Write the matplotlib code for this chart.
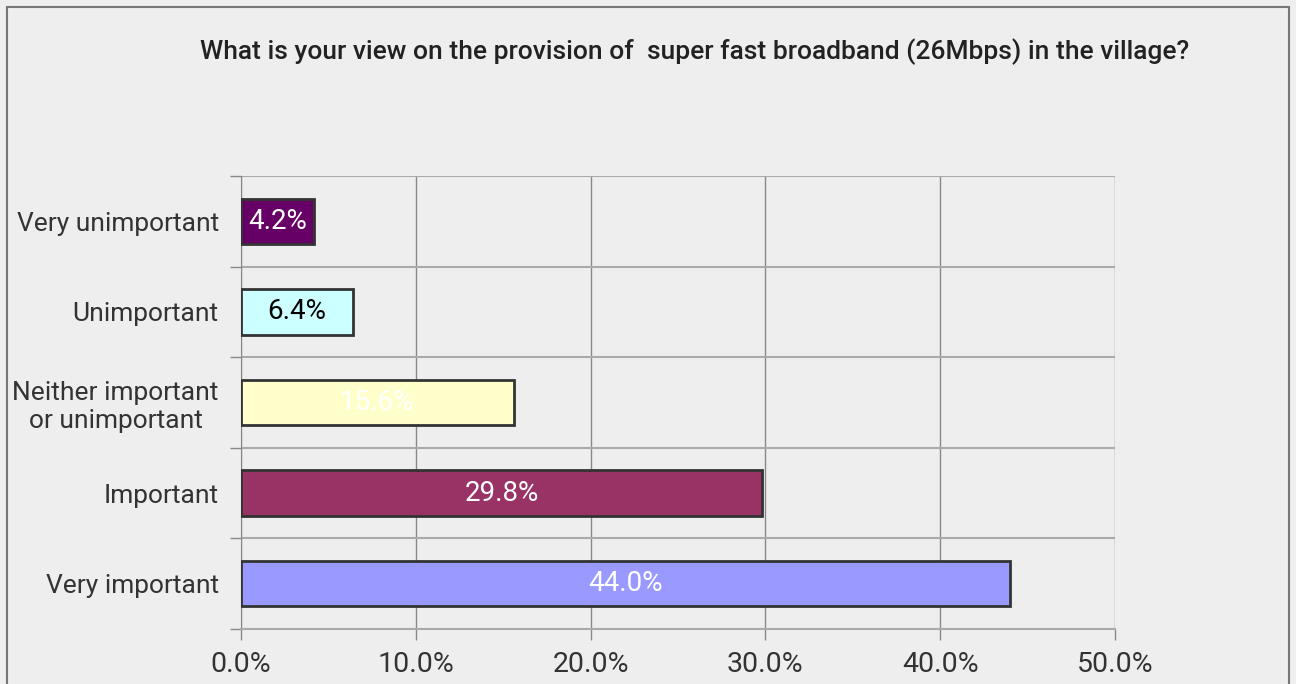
import matplotlib
matplotlib.use("Agg")
import matplotlib.pyplot as plt
from matplotlib.patches import Rectangle
from matplotlib.ticker import FixedLocator, PercentFormatter

# survey answers, bottom to top as drawn
categories = ["Very important", "Important", "Neither important\nor unimportant",
              "Unimportant", "Very unimportant"]
values = [44.0, 29.8, 15.6, 6.4, 4.2]
bar_colors = ["#9999FF", "#993366", "#FFFFCC", "#CCFFFF", "#660066"]
label_colors = ["white", "white", "white", "black", "white"]
x_ticks = [0, 10, 20, 30, 40, 50]
title = "What is your view on the provision of  super fast broadband (26Mbps) in the village?"

plt.rcParams['font.family'] = ['Roboto', 'DejaVu Sans']
bg = "#EEEEEE"
txt = "#333333"

fig = plt.figure(figsize=(12.96, 6.84), dpi=100, facecolor=bg)
ax = fig.add_axes([241/1296, 1 - 629/684, (1115-241)/1296, (629-176)/684])
ax.set_facecolor(bg)

y = list(range(len(categories)))
ax.barh(y, values, height=0.5, color=bar_colors, edgecolor="#333333", linewidth=2, zorder=3)
for yi, v, c in zip(y, values, label_colors):
    ax.text(v / 2, yi, "%.1f%%" % v, ha="center", va="center", color=c, fontsize=20, zorder=4)

ax.set_xlim(0, 50)
ax.set_ylim(-0.5, len(categories) - 0.5)
ax.xaxis.set_major_locator(FixedLocator(x_ticks))
ax.xaxis.set_major_formatter(PercentFormatter(decimals=1))
ax.set_yticks(y)
ax.set_yticklabels(categories, ha="right", multialignment="center")
ax.yaxis.set_minor_locator(FixedLocator([i - 0.5 for i in range(len(categories) + 1)]))

ax.tick_params(axis="x", length=8, width=1, color="#888888", labelsize=20.5, labelcolor=txt, pad=8)
ax.tick_params(axis="y", which="major", length=0, labelsize=19, labelcolor=txt, pad=16)
ax.tick_params(axis="y", which="minor", length=8, width=1, color="#888888")

ax.grid(axis="x", which="major", color="#888888", linewidth=1, zorder=0)
ax.grid(axis="y", which="minor", color="#AAAAAA", linewidth=1.5, zorder=0)
for s in ["top", "right"]:
    ax.spines[s].set_visible(False)
ax.spines["left"].set_color("#888888")
ax.spines["bottom"].set_color("#AAAAAA")
ax.spines["bottom"].set_linewidth(1.5)

fig.text(695/1296, 1 - 52/684, title, ha="center", va="center", fontsize=19,
         fontweight="medium", color="#222222")

fig.patches.append(Rectangle((7/1296, -0.1), (1289-7)/1296, 1.1 - 7/684,
                             transform=fig.transFigure, fill=False,
                             edgecolor="#777777", linewidth=1.5))

fig.savefig("out.png", dpi=100, facecolor=bg)
